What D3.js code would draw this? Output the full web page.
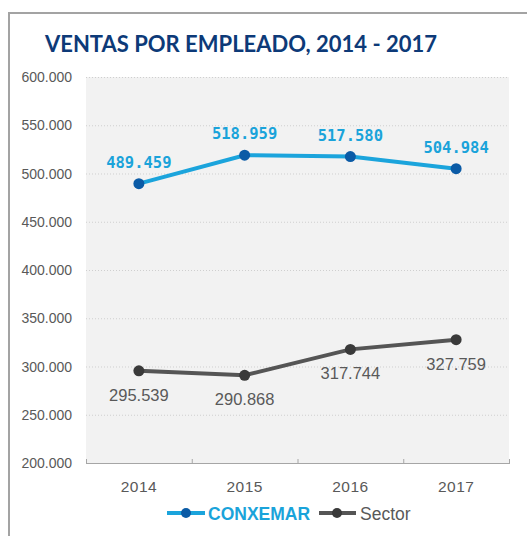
<!DOCTYPE html>
<html><head><meta charset="utf-8">
<script src="https://cdn.jsdelivr.net/npm/d3@7"></script>
<style>
html,body{margin:0;padding:0;background:#fff;}
svg{display:block;}
</style></head>
<body>
<script>
const years = ["2014","2015","2016","2017"];
const conxemar = [489459, 518959, 517580, 504984];
const sector = [295539, 290868, 317744, 327759];
const yTicks = [200000,250000,300000,350000,400000,450000,500000,550000,600000];
const titleText = "VENTAS POR EMPLEADO, 2014 - 2017";
const seriesNames = ["CONXEMAR","Sector"];

const W = 527, H = 536;
const m = {left: 86, right: 18, top: 77, bottom: 73};
const svg = d3.select("body").append("svg").attr("width", W).attr("height", H);

// outer frame
svg.append("line").attr("x1",9).attr("x2",W).attr("y1",13).attr("y2",13).attr("stroke","#a3a3a3").attr("stroke-width",2);
svg.append("line").attr("x1",9).attr("x2",9).attr("y1",12).attr("y2",H).attr("stroke","#a3a3a3").attr("stroke-width",2);

svg.append("text").attr("x",45).attr("y",52).text(titleText)
  .attr("font-family","Lato, 'Open Sans', sans-serif").attr("font-weight","bold")
  .attr("font-size",22).attr("fill","#0d3a78")
  .attr("textLength",392).attr("lengthAdjust","spacingAndGlyphs");

const x = d3.scaleBand().domain(years).range([m.left, W - m.right]);
const y = d3.scaleLinear().domain([200000,600000]).range([H - m.bottom, m.top]);

svg.append("rect").attr("x", m.left).attr("y", m.top)
  .attr("width", x.range()[1]-m.left).attr("height", y(200000)-m.top).attr("fill","#f2f2f2");

// grid
svg.append("g").selectAll("line").data(yTicks.filter(d=>d>200000)).join("line")
  .attr("x1", m.left).attr("x2", x.range()[1])
  .attr("y1", d=>y(d)+0.5).attr("y2", d=>y(d)+0.5)
  .attr("stroke","#cfcfcf").attr("stroke-dasharray","1,2");

// y labels
const fmt = d => d3.format(",")(d).replace(/,/g,".");
svg.append("g").selectAll("text").data(yTicks).join("text")
  .attr("x",72).attr("y",d=>y(d)+5).attr("text-anchor","end")
  .attr("font-family","'Liberation Sans', Arial, sans-serif").attr("font-size",14)
  .attr("fill","#595959").text(fmt);

// x axis
const xAxis = d3.axisBottom(x).tickSize(0).tickPadding(0);
const gx = svg.append("g").attr("transform",`translate(0,${y(200000)})`).call(xAxis);
gx.select(".domain").remove();
gx.selectAll("text").attr("y",29).attr("dy",0)
  .attr("font-family","'Liberation Sans', Arial, sans-serif").attr("font-size",15.5)
  .attr("fill","#595959").attr("letter-spacing",0.5);
const ax = svg.append("g");
ax.append("line").attr("x1",m.left).attr("x2",x.range()[1]).attr("y1",y(200000)+0.5).attr("y2",y(200000)+0.5).attr("stroke","#a6a6a6");
const bounds = years.map(d=>x(d)).concat([x.range()[1]]);
ax.selectAll(".tk").data(bounds).join("line").attr("class","tk")
  .attr("x1",d=>d+0.5).attr("x2",d=>d+0.5).attr("y1",y(200000)-4).attr("y2",y(200000)+1).attr("stroke","#a6a6a6");

const cx = d => x(d) + x.bandwidth()/2;
const line = d3.line().x((d,i)=>cx(years[i])).y(d=>y(d));

// sector
svg.append("path").datum(sector).attr("d",line).attr("fill","none").attr("stroke","#555555").attr("stroke-width",4);
svg.append("g").selectAll("circle").data(sector).join("circle")
  .attr("cx",(d,i)=>cx(years[i])).attr("cy",d=>y(d)).attr("r",5.5).attr("fill","#3a3a3a");
svg.append("g").selectAll("text").data(sector).join("text")
  .attr("x",(d,i)=>cx(years[i])).attr("y",d=>y(d)+30).attr("text-anchor","middle")
  .attr("font-family","'Liberation Sans', Arial, sans-serif").attr("font-size",16.5)
  .attr("fill","#595959").text(fmt);

// conxemar
svg.append("path").datum(conxemar).attr("d",line).attr("fill","none").attr("stroke","#1ba4dc").attr("stroke-width",4);
svg.append("g").selectAll("circle").data(conxemar).join("circle")
  .attr("cx",(d,i)=>cx(years[i])).attr("cy",d=>y(d)).attr("r",5.5).attr("fill","#0b5ba6");
svg.append("g").selectAll("text").data(conxemar).join("text")
  .attr("x",(d,i)=>cx(years[i])).attr("y",d=>y(d)-16).attr("text-anchor","middle")
  .attr("font-family","'DejaVu Sans Mono', monospace").attr("font-weight","bold").attr("font-size",15.5)
  .attr("fill","#1aa3da").text(fmt);

// legend
const lg = svg.append("g");
const ly = 513;
lg.append("line").attr("x1",167).attr("x2",205).attr("y1",ly).attr("y2",ly).attr("stroke","#1ba4dc").attr("stroke-width",4);
lg.append("circle").attr("cx",186).attr("cy",ly).attr("r",5).attr("fill","#0b5ba6");
lg.append("text").attr("x",208).attr("y",ly+6.5).text(seriesNames[0])
  .attr("font-family","'Liberation Sans', Arial, sans-serif").attr("font-weight","bold").attr("font-size",17.5).attr("fill","#1aa3da");
lg.append("line").attr("x1",319).attr("x2",356).attr("y1",ly).attr("y2",ly).attr("stroke","#555555").attr("stroke-width",4);
lg.append("circle").attr("cx",337).attr("cy",ly).attr("r",5).attr("fill","#3a3a3a");
lg.append("text").attr("x",360).attr("y",ly+6.5).text(seriesNames[1])
  .attr("font-family","'Liberation Sans', Arial, sans-serif").attr("font-size",17.5).attr("fill","#595959");
</script>
</body></html>
